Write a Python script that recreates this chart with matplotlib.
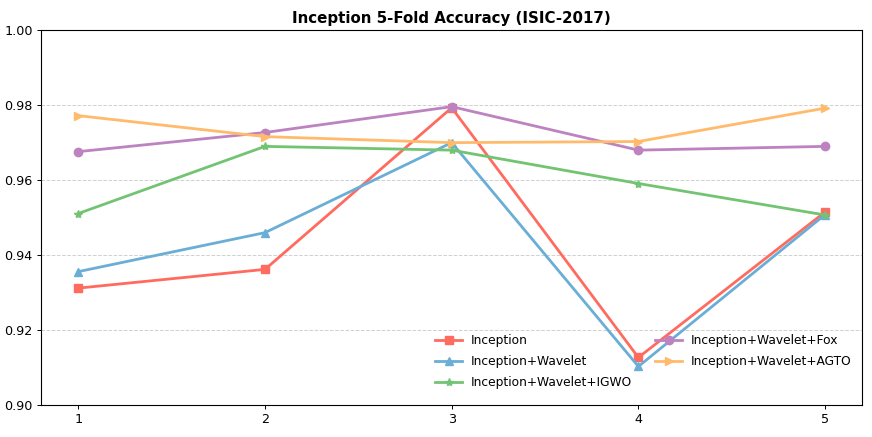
import numpy as np
import matplotlib
matplotlib.use("Agg")
import matplotlib.pyplot as plt

# Fold index and accuracy per model
folds = [1, 2, 3, 4, 5]
inception = [0.9312, 0.9362, 0.9793, 0.9127, 0.9515]
inception_wavelet = [0.9356, 0.9460, 0.9700, 0.9103, 0.9508]
inception_wavelet_igwo = [0.9511, 0.9690, 0.9680, 0.9591, 0.9507]
inception_wavelet_fox = [0.9676, 0.9727, 0.9796, 0.9680, 0.9690]
inception_wavelet_agto = [0.9772, 0.9716, 0.9700, 0.9703, 0.9792]

series = [
    ("Inception", inception, 's', '#ff6b5f'),
    ("Inception+Wavelet", inception_wavelet, '^', '#6aaed6'),
    ("Inception+Wavelet+IGWO", inception_wavelet_igwo, '*', '#72c472'),
    ("Inception+Wavelet+Fox", inception_wavelet_fox, 'o', '#bd82c0'),
    ("Inception+Wavelet+AGTO", inception_wavelet_agto, '>', '#ffbb6b'),
]

fig = plt.figure(figsize=(8.72, 4.37), dpi=100)
ax = fig.add_axes([0.047, 0.073, 0.942, 0.858])

for name, vals, mk, col in series:
    ax.plot(folds, vals, marker=mk, color=col, linewidth=2, markersize=6, label=name)

ax.set_ylim(0.90, 1.00)
ax.set_xticks(folds)
ax.set_yticks(np.arange(0.90, 1.001, 0.02))
ax.grid(axis='y', linestyle='--', color='#d0d0d0', linewidth=0.7)
ax.set_axisbelow(True)
ax.set_title("Inception 5-Fold Accuracy (ISIC-2017)", fontsize=10.8, fontweight='bold', pad=5)
ax.tick_params(labelsize=9.2, length=3, width=0.7, pad=3)
for sp in ax.spines.values():
    sp.set_linewidth(0.8)

ax.legend(loc='lower right', ncol=2, frameon=False, fontsize=8.8,
          handlelength=2.2, handletextpad=0.7, columnspacing=1.9, labelspacing=0.65,
          bbox_to_anchor=(1.0, 0.013))

fig.savefig("out.png", dpi=100)
